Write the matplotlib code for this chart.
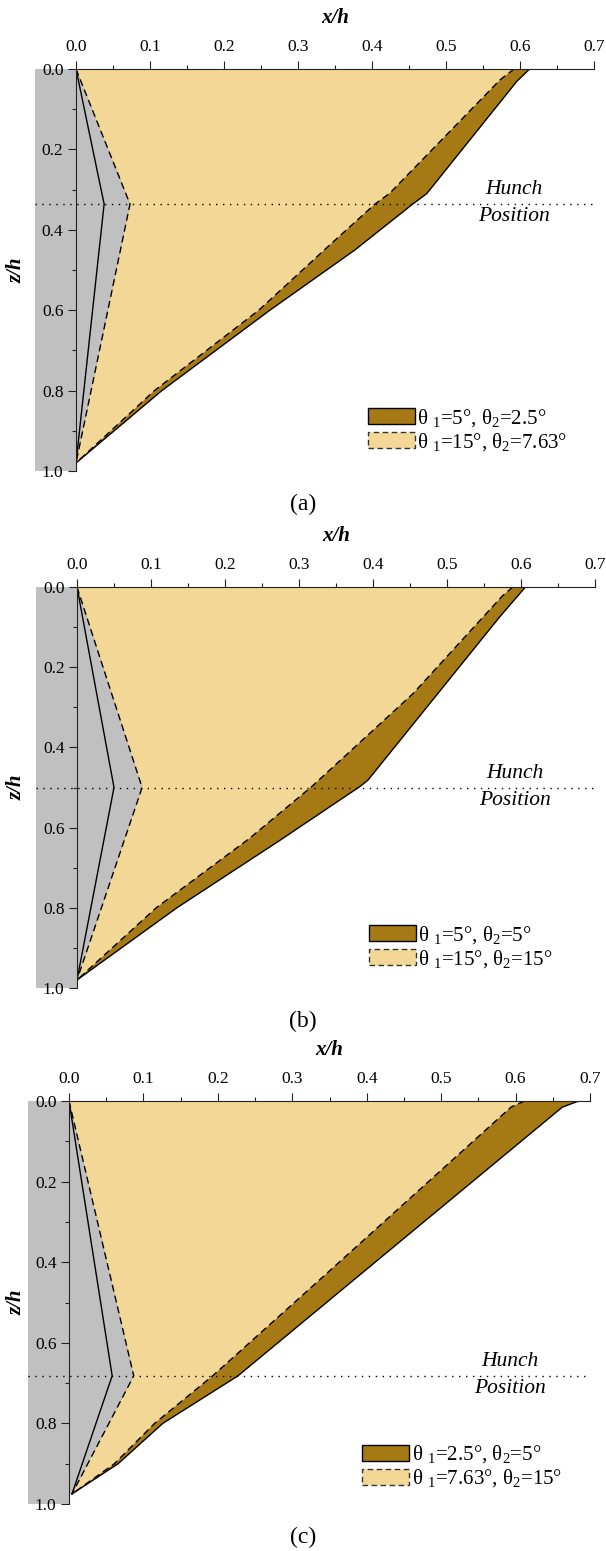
import matplotlib
matplotlib.use("Agg")
import matplotlib.pyplot as plt
from matplotlib.patches import Rectangle, Patch
from matplotlib.ticker import MultipleLocator, FormatStrFormatter

plt.rcParams['font.family'] = ['Liberation Serif', 'DejaVu Serif']
plt.rcParams['mathtext.fontset'] = 'custom'
plt.rcParams['mathtext.rm'] = 'Liberation Serif'
plt.rcParams['mathtext.it'] = 'Liberation Serif:italic'

BROWN = '#A57A15'
YELLOW = '#F2D796'
GRAY = '#C0C0C0'

# ---- data (x/h vs z/h) ----
# panel (a)
hunch_a = 0.336
in_solid_x_a = [0.0, 0.038, 0.0]
in_solid_z_a = [0.0, 0.336, 0.98]
in_dash_x_a = [0.0, 0.073, 0.0]
in_dash_z_a = [0.0, 0.336, 0.98]
out_solid_x_a = [0.613, 0.596, 0.474, 0.455, 0.377, 0.262, 0.116, 0.0]
out_solid_z_a = [0.0, 0.03, 0.31, 0.336, 0.45, 0.6, 0.8, 0.98]
out_dash_x_a = [0.592, 0.573, 0.424, 0.404, 0.338, 0.247, 0.106, 0.0]
out_dash_z_a = [0.0, 0.027, 0.309, 0.336, 0.446, 0.6, 0.8, 0.98]
labels_a = ['θ $_1$=5°, θ$_2$=2.5°', 'θ $_1$=15°, θ$_2$=7.63°']

# panel (b)
hunch_b = 0.5
in_solid_x_b = [0.0, 0.050, 0.0]
in_solid_z_b = [0.0, 0.5, 0.98]
in_dash_x_b = [0.0, 0.088, 0.0]
in_dash_z_b = [0.0, 0.5, 0.98]
out_solid_x_b = [0.606, 0.571, 0.393, 0.382, 0.274, 0.135, 0.0]
out_solid_z_b = [0.0, 0.075, 0.482, 0.498, 0.632, 0.8, 0.98]
out_dash_x_b = [0.589, 0.575, 0.454, 0.317, 0.233, 0.107, 0.0]
out_dash_z_b = [0.0, 0.022, 0.266, 0.498, 0.627, 0.8, 0.98]
labels_b = ['θ $_1$=5°, θ$_2$=5°', 'θ $_1$=15°, θ$_2$=15°']

# panel (c)
hunch_c = 0.682
in_solid_x_c = [0.0, 0.058, 0.004]
in_solid_z_c = [0.0, 0.682, 0.975]
in_dash_x_c = [0.0, 0.087, 0.004]
in_dash_z_c = [0.0, 0.682, 0.975]
out_solid_x_c = [0.685, 0.663, 0.227, 0.126, 0.066, 0.004]
out_solid_z_c = [0.0, 0.015, 0.682, 0.8, 0.9, 0.975]
out_dash_x_c = [0.612, 0.594, 0.345, 0.193, 0.115, 0.061, 0.004]
out_dash_z_c = [0.0, 0.015, 0.43, 0.682, 0.8, 0.9, 0.975]
labels_c = ['θ $_1$=2.5°, θ$_2$=5°', 'θ $_1$=7.63°, θ$_2$=15°']

panels = [
    ('(a)', hunch_a, in_solid_x_a, in_solid_z_a, in_dash_x_a, in_dash_z_a,
     out_solid_x_a, out_solid_z_a, out_dash_x_a, out_dash_z_a, labels_a),
    ('(b)', hunch_b, in_solid_x_b, in_solid_z_b, in_dash_x_b, in_dash_z_b,
     out_solid_x_b, out_solid_z_b, out_dash_x_b, out_dash_z_b, labels_b),
    ('(c)', hunch_c, in_solid_x_c, in_solid_z_c, in_dash_x_c, in_dash_z_c,
     out_solid_x_c, out_solid_z_c, out_dash_x_c, out_dash_z_c, labels_c),
]

# axes boxes in pixels: left, right, top, bottom
boxes = [(76, 594, 69, 471), (77, 595, 587, 988), (69, 590, 1101, 1504)]
leg_y = [0.159, 0.16, 0.15]

W, H = 606, 1551
fig = plt.figure(figsize=(W / 100, H / 100), dpi=100)

for i, p in enumerate(panels):
    (tag, zh, isx, isz, idx, idz, osx, osz, odx, odz, labs) = p
    l, r, t, b = boxes[i]
    ax = fig.add_axes([l / W, 1 - b / H, (r - l) / W, (b - t) / H])
    ax.set_xlim(0, 0.7)
    ax.set_ylim(1.0, 0.0)

    # wall outside the axes
    ax.add_patch(Rectangle((-0.055, 0), 0.055, 1.0, facecolor=GRAY,
                           edgecolor='none', clip_on=False, zorder=0))

    # brown: solid case, yellow: dashed case, gray: wall side of dashed
    ax.fill(isx + osx[::-1], isz + osz[::-1], color=BROWN, lw=0, zorder=1)
    ax.fill(idx + odx[::-1], idz + odz[::-1], color=YELLOW, lw=0, zorder=2)
    ax.fill([0.0] + idx + [0.0], [0.0] + idz + [idz[-1]], color=GRAY, lw=0, zorder=3)

    ax.plot(isx, isz, color='k', lw=1.0, zorder=4)
    ax.plot(osx, osz, color='k', lw=1.0, zorder=4)
    ax.plot(idx, idz, color='k', lw=1.0, ls=(0, (5, 3)), zorder=4)
    ax.plot(odx, odz, color='k', lw=1.0, ls=(0, (5, 3)), zorder=4)

    ax.plot([-0.055, 0.7], [zh, zh], color='k', lw=1.0, ls=(0, (1, 4)),
            clip_on=False, zorder=5)
    ax.text(0.592, zh - 0.036, 'Hunch', style='italic', fontsize=15.5,
            ha='center', va='center')
    ax.text(0.592, zh + 0.032, 'Position', style='italic', fontsize=15.5,
            ha='center', va='center')

    for s in ['bottom', 'right']:
        ax.spines[s].set_visible(False)
    for s in ['top', 'left']:
        ax.spines[s].set_linewidth(0.8)
        ax.spines[s].set_color('#222222')
        ax.spines[s].set_zorder(6)

    ax.xaxis.tick_top()
    ax.xaxis.set_label_position('top')
    ax.xaxis.set_major_locator(MultipleLocator(0.1))
    ax.xaxis.set_minor_locator(MultipleLocator(0.05))
    ax.yaxis.set_major_locator(MultipleLocator(0.2))
    ax.yaxis.set_minor_locator(MultipleLocator(0.1))
    ax.xaxis.set_major_formatter(FormatStrFormatter('%.1f'))
    ax.yaxis.set_major_formatter(FormatStrFormatter('%.1f'))
    ax.tick_params(which='major', direction='out', length=6, width=0.8,
                   labelsize=12.5, color='#222222')
    ax.tick_params(which='minor', direction='out', length=3, width=0.8,
                   color='#222222')
    ax.tick_params(axis='x', which='both', top=True, bottom=False, pad=4)
    ax.tick_params(axis='y', which='both', right=False, pad=3)

    ax.set_xlabel('x/h', fontsize=15, fontweight='bold', style='italic')
    ax.set_ylabel('z/h', fontsize=15, fontweight='bold', style='italic')
    ax.xaxis.set_label_coords(0.5, 1 + 51 / (b - t))
    ax.xaxis.label.set_va('center')
    ax.yaxis.set_label_coords(-(l - 17) / (r - l), 0.5)
    ax.yaxis.label.set_va('center')

    handles = [Patch(facecolor=BROWN, edgecolor='k', lw=1.0),
               Patch(facecolor=YELLOW, edgecolor='#333333', lw=1.0, ls=(0, (4, 2.5)))]
    ax.legend(handles, labs, loc='upper left', bbox_to_anchor=(0.563, leg_y[i]),
              frameon=False, fontsize=15, borderpad=0, borderaxespad=0,
              handlelength=2.25, handleheight=0.8, handletextpad=0.12,
              labelspacing=0.1)

    fig.text(0.5, 1 - (b + 33) / H, tag, fontsize=17, ha='center', va='center')

fig.savefig('out.png', dpi=100)
